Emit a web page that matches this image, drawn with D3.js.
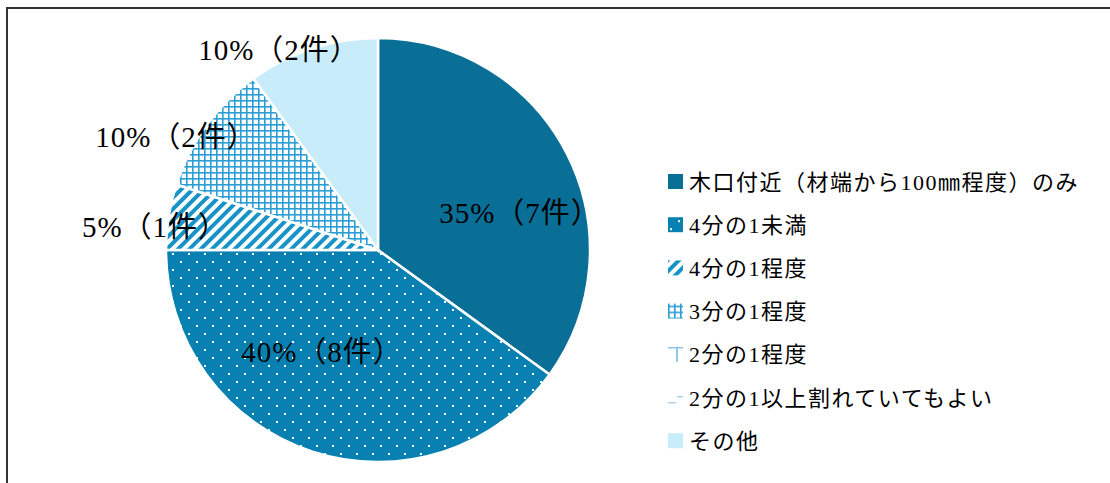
<!DOCTYPE html>
<html>
<head>
<meta charset="utf-8">
<script src="https://cdn.jsdelivr.net/npm/d3@7"></script>
<style>
  body { margin: 0; background: #fff; }
  svg { display: block; }
  text { font-family: "Liberation Serif", "Noto Sans CJK JP", serif; fill: #000; }
</style>
</head>
<body>
<div id="chart"></div>
<script>
// chart data
const categories = [
  '木口付近（材端から100㎜程度）のみ',
  '4分の1未満',
  '4分の1程度',
  '3分の1程度',
  '2分の1程度',
  '2分の1以上割れていてもよい',
  'その他'
];
const counts = [7, 8, 1, 2, 0, 0, 2];
const percents = [35, 40, 5, 10, 0, 0, 10];
const fills = ['url(#solid)', 'url(#dots)', 'url(#stripes)', 'url(#grid)', 'url(#vlines)', 'url(#dashes)', 'url(#light)'];

const width = 1110;
const height = 483;
const cx = 378;
const cy = 250;
const radius = 212;

const svg = d3.select('#chart')
  .append('svg')
  .attr('width', width)
  .attr('height', height);

const defs = svg.append('defs');

// solid dark
defs.append('pattern').attr('id', 'solid')
  .attr('patternUnits', 'userSpaceOnUse').attr('width', 8).attr('height', 8)
  .append('rect').attr('width', 8).attr('height', 8).attr('fill', '#0a6f97');

// dotted
const dots = defs.append('pattern').attr('id', 'dots')
  .attr('patternUnits', 'userSpaceOnUse').attr('width', 16).attr('height', 16);
dots.append('rect').attr('width', 16).attr('height', 16).attr('fill', '#0880b2');
dots.append('rect').attr('x', 2).attr('y', 3).attr('width', 2).attr('height', 2).attr('fill', '#fff');
dots.append('rect').attr('x', 10).attr('y', 11).attr('width', 2).attr('height', 2).attr('fill', '#fff');

// diagonal stripes
const stripes = defs.append('pattern').attr('id', 'stripes')
  .attr('patternUnits', 'userSpaceOnUse').attr('width', 8).attr('height', 8)
  .attr('patternTransform', 'rotate(45)');
stripes.append('rect').attr('width', 8).attr('height', 8).attr('fill', '#fff');
stripes.append('rect').attr('width', 4).attr('height', 8).attr('fill', '#1893c7');

// grid
const grid = defs.append('pattern').attr('id', 'grid')
  .attr('patternUnits', 'userSpaceOnUse').attr('width', 6).attr('height', 6);
grid.append('rect').attr('width', 6).attr('height', 6).attr('fill', '#fff');
grid.append('rect').attr('width', 6).attr('height', 1.6).attr('fill', '#2a9ed5');
grid.append('rect').attr('width', 1.6).attr('height', 6).attr('fill', '#2a9ed5');

// vertical line with top bar (legend only)
const vlines = defs.append('pattern').attr('id', 'vlines')
  .attr('patternUnits', 'userSpaceOnUse').attr('x', 0).attr('y', -8)
  .attr('width', 16).attr('height', 16);
vlines.append('rect').attr('width', 16).attr('height', 16).attr('fill', '#fff');
vlines.append('rect').attr('x', 0).attr('y', 0).attr('width', 15).attr('height', 1.5).attr('fill', '#7cbde3');
vlines.append('rect').attr('x', 8).attr('y', 0).attr('width', 2).attr('height', 16).attr('fill', '#8cc7e8');

// dashes (legend only)
const dashes = defs.append('pattern').attr('id', 'dashes')
  .attr('patternUnits', 'userSpaceOnUse').attr('x', 0).attr('y', -8)
  .attr('width', 16).attr('height', 16);
dashes.append('rect').attr('width', 16).attr('height', 16).attr('fill', '#fff');
dashes.append('rect').attr('x', 9).attr('y', 6).attr('width', 6).attr('height', 1.5).attr('fill', '#a9d6ef');
dashes.append('rect').attr('x', 0).attr('y', 12).attr('width', 8).attr('height', 1.5).attr('fill', '#a9d6ef');

// light
defs.append('pattern').attr('id', 'light')
  .attr('patternUnits', 'userSpaceOnUse').attr('width', 8).attr('height', 8)
  .append('rect').attr('width', 8).attr('height', 8).attr('fill', '#c9ecfa');

// frame
svg.append('rect')
  .attr('x', 7).attr('y', 8)
  .attr('width', width + 20).attr('height', height + 20)
  .attr('fill', 'none')
  .attr('stroke', '#333')
  .attr('stroke-width', 2);

const data = categories.map((c, i) => ({ name: c, value: counts[i], pct: percents[i], fill: fills[i] }));

const pie = d3.pie().sort(null).value(d => d.value);
const arc = d3.arc().innerRadius(0).outerRadius(radius);

const g = svg.append('g').attr('transform', `translate(${cx},${cy})`);

const arcs = pie(data).filter(d => d.data.value > 0);

g.selectAll('path')
  .data(arcs)
  .enter().append('path')
  .attr('d', arc)
  .attr('fill', d => d.data.fill)
  .attr('stroke', '#fff')
  .attr('stroke-width', 2.5);

// labels
const labelPos = {
  0: [520, 213],
  1: [322, 352],
  2: [155, 227],
  3: [176, 137],
  6: [279, 50]
};
const labelArc = d3.arc().innerRadius(radius * 0.7).outerRadius(radius * 0.7);

svg.append('g').selectAll('text')
  .data(arcs)
  .enter().append('text')
  .attr('x', d => {
    const i = categories.indexOf(d.data.name);
    return labelPos[i] ? labelPos[i][0] : cx + labelArc.centroid(d)[0];
  })
  .attr('y', d => {
    const i = categories.indexOf(d.data.name);
    return labelPos[i] ? labelPos[i][1] : cy + labelArc.centroid(d)[1];
  })
  .attr('text-anchor', 'middle')
  .attr('dominant-baseline', 'central')
  .style('font-size', '29px')
  .style('letter-spacing', '1px')
  .text(d => `${d.data.pct}%（${d.data.value}件）`);

// legend
const legend = svg.append('g').attr('transform', 'translate(668,182)');
const rows = legend.selectAll('g')
  .data(data)
  .enter().append('g')
  .attr('transform', (d, i) => `translate(0,${i * 43.2})`);

rows.append('rect')
  .attr('x', 0).attr('y', -8)
  .attr('width', 15).attr('height', 15)
  .attr('fill', d => d.fill);

rows.append('text')
  .attr('x', 21)
  .attr('y', 0)
  .attr('dominant-baseline', 'central')
  .style('font-size', '22px')
  .style('letter-spacing', '1.5px')
  .text(d => d.name);
</script>
</body>
</html>
